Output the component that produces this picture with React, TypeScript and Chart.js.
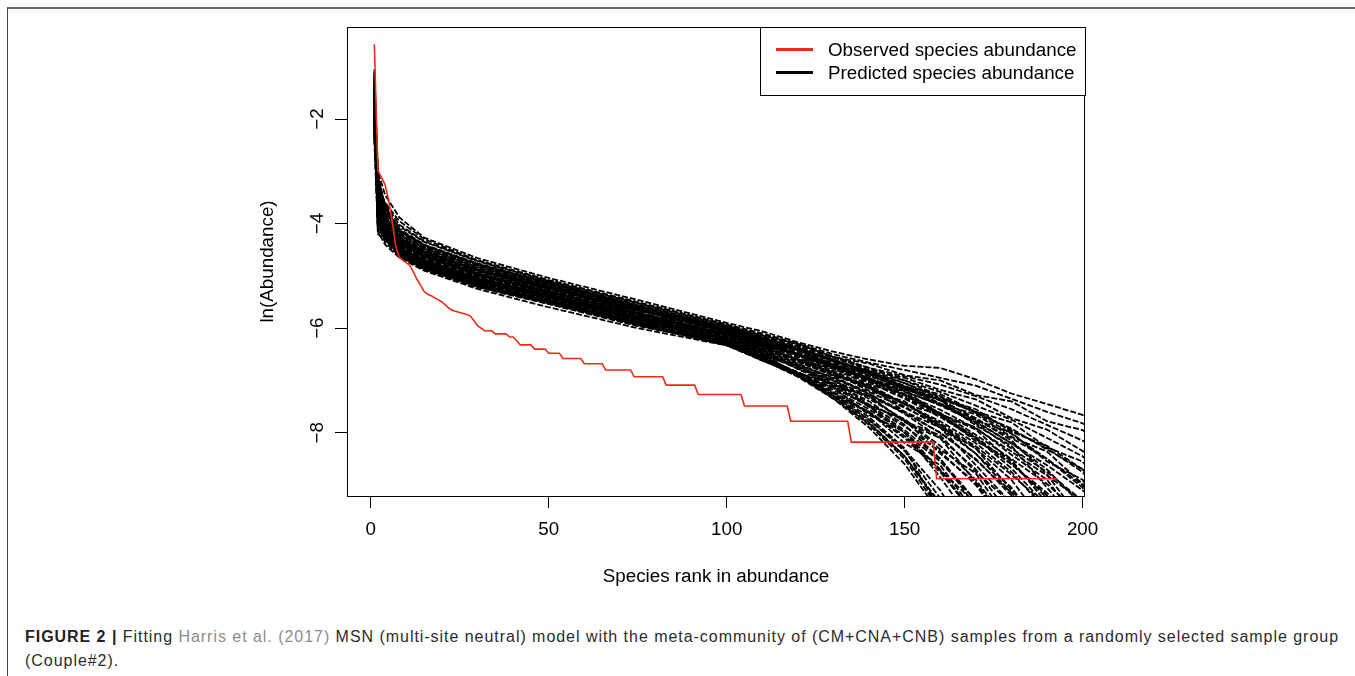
import React, { useEffect, useLayoutEffect, useRef } from "react";
import { Chart, registerables } from "chart.js";

Chart.register(...registerables);

const FONT = "'Liberation Sans', Arial, Helvetica, sans-serif";
const AXIS_FONT_SIZE = 18.8;
const RED = "#ee2a16";

const X_TICKS = [0, 50, 100, 150, 200];
const Y_TICKS = [-2, -4, -6, -8];
const Y_TICK_LABELS = ["\u22122", "\u22124", "\u22126", "\u22128"];
const X_RANGE = [-6.68, 200.68];
const Y_RANGE = [-9.21, -0.24];

const X_TITLE = "Species rank in abundance";
const Y_TITLE = "ln(Abundance)";
const LEGEND_LABELS = ["Observed species abundance", "Predicted species abundance"];

// Observed rank-abundance curve (breakpoints of the red line)
const OBS_RANKS = [
  1, 2, 3, 4, 5, 6, 7, 8, 9, 10, 11, 12, 13, 14, 15, 16, 17, 18, 19, 20, 21, 22, 23, 24, 25, 26, 27, 28, 29, 30, 31, 32,
  34, 35, 38, 39, 40, 41, 42, 45, 46, 49, 50, 53, 54, 59, 60, 65, 66, 73, 74, 82, 83, 91, 92, 104, 105, 117, 118, 134,
  135, 158, 159, 193,
];
const OBS_VALUES = [
  -0.57, -2.98, -3.12, -3.25, -3.55, -3.95, -4.42, -4.65, -4.7, -4.75, -4.8, -4.93, -5.07, -5.18, -5.3, -5.35, -5.38,
  -5.42, -5.46, -5.5, -5.56, -5.62, -5.66, -5.68, -5.7, -5.72, -5.74, -5.77, -5.86, -5.95, -6.0, -6.05,
  -6.05, -6.11, -6.11, -6.17, -6.17, -6.24, -6.32, -6.32, -6.4, -6.4, -6.48, -6.48, -6.58, -6.58, -6.68, -6.68, -6.8,
  -6.8, -6.93, -6.93, -7.09, -7.09, -7.27, -7.27, -7.49, -7.49, -7.78, -7.78, -8.18, -8.18, -8.88, -8.88,
];

// Predicted (simulated) curves, sampled at these ranks
const SIM_RANKS = [1, 2, 4, 8, 15, 30, 50, 75, 100, 110, 120, 130, 140, 150, 160, 170, 180, 190, 200, 210];
const SIM_01 = [-1.05, -3.0, -3.45, -3.88, -4.27, -4.66, -5.04, -5.46, -5.9, -6.06, -6.27, -6.45, -6.6, -6.72, -6.76, -6.98, -7.25, -7.45, -7.66, -8.0];
const SIM_02 = [-1.8, -3.3, -3.6, -3.95, -4.3, -4.7, -5.08, -5.5, -5.93, -6.1, -6.3, -6.5, -6.66, -6.8, -6.95, -7.1, -7.35, -7.6, -7.82, -8.2];
const SIM_03 = [-1.5, -3.5, -3.8, -4.05, -4.35, -4.72, -5.1, -5.52, -5.95, -6.14, -6.3, -6.55, -6.68, -6.9, -7.0, -7.28, -7.4, -7.78, -7.95, -8.45];
const SIM_04 = [-2.0, -3.2, -3.65, -4.1, -4.4, -4.76, -5.12, -5.55, -5.97, -6.15, -6.35, -6.56, -6.76, -6.92, -7.08, -7.3, -7.55, -7.85, -8.15, -8.6];
const SIM_05 = [-1.2, -3.7, -3.9, -4.15, -4.42, -4.78, -5.14, -5.57, -6.0, -6.18, -6.42, -6.56, -6.8, -6.95, -7.18, -7.36, -7.72, -7.94, -8.35, -8.75];
const SIM_06 = [-1.7, -3.4, -3.75, -4.2, -4.45, -4.8, -5.16, -5.58, -6.01, -6.2, -6.42, -6.63, -6.82, -7.0, -7.22, -7.48, -7.75, -8.1, -8.45, -9.1];
const SIM_07 = [-2.2, -3.85, -4.0, -4.22, -4.48, -4.83, -5.18, -5.6, -6.03, -6.26, -6.42, -6.7, -6.85, -7.12, -7.26, -7.6, -7.8, -8.28, -8.55, -9.45];
const SIM_08 = [-1.4, -3.1, -3.7, -4.25, -4.5, -4.85, -5.2, -5.62, -6.05, -6.25, -6.47, -6.7, -6.92, -7.12, -7.36, -7.6, -7.95, -8.3, -8.75, -9.7];
const SIM_09 = [-1.9, -3.6, -3.95, -4.3, -4.52, -4.87, -5.21, -5.63, -6.06, -6.25, -6.53, -6.7, -6.98, -7.14, -7.45, -7.65, -8.08, -8.36, -8.98, -9.9];
const SIM_10 = [-1.6, -4.0, -4.1, -4.32, -4.55, -4.88, -5.22, -5.64, -6.07, -6.3, -6.52, -6.75, -6.98, -7.22, -7.46, -7.75, -8.1, -8.5, -9.05, -10.3];
const SIM_11 = [-2.1, -3.3, -3.85, -4.28, -4.56, -4.9, -5.24, -5.66, -6.0, -6.24, -6.42, -6.7, -6.88, -7.18, -7.36, -7.76, -8.0, -8.55, -8.9, -10.0];
const SIM_12 = [-1.35, -3.75, -4.05, -4.35, -4.58, -4.92, -5.25, -5.67, -5.98, -6.18, -6.38, -6.6, -6.83, -7.05, -7.32, -7.62, -7.92, -8.32, -8.7, -9.5];
const SIM_13 = [-1.75, -3.55, -3.9, -4.38, -4.6, -4.94, -5.27, -5.69, -6.12, -6.3, -6.5, -6.72, -6.95, -7.2, -7.48, -7.8, -8.2, -8.7, -9.4];
const SIM_14 = [-1.55, -3.15, -3.8, -4.36, -4.62, -4.96, -5.28, -5.7, -6.13, -6.33, -6.6, -6.78, -7.08, -7.26, -7.65, -7.9, -8.42, -8.9, -9.8];
const SIM_15 = [-2.25, -3.95, -4.15, -4.4, -4.64, -4.98, -5.3, -5.72, -6.0, -6.2, -6.4, -6.62, -6.85, -7.1, -7.38, -7.72, -8.15, -8.8, -9.7];
const SIM_16 = [-1.45, -3.45, -3.95, -4.42, -4.66, -5.0, -5.32, -5.74, -6.16, -6.4, -6.6, -6.9, -7.08, -7.45, -7.66, -8.16, -8.52, -9.35];
const SIM_17 = [-1.95, -3.65, -4.05, -4.45, -4.68, -5.02, -5.34, -5.75, -6.18, -6.4, -6.65, -6.9, -7.15, -7.45, -7.78, -8.2, -8.75, -9.5];
const SIM_18 = [-1.25, -3.8, -4.12, -4.47, -4.7, -5.04, -5.35, -5.77, -5.96, -6.18, -6.35, -6.64, -6.82, -7.16, -7.38, -7.86, -8.25, -9.05, -9.85];
const SIM_19 = [-2.05, -3.25, -3.9, -4.5, -4.72, -5.06, -5.37, -5.79, -6.21, -6.44, -6.7, -6.95, -7.22, -7.52, -7.86, -8.3, -8.9, -9.8];
const SIM_20 = [-1.65, -4.1, -4.2, -4.48, -4.74, -5.08, -5.39, -5.8, -6.04, -6.22, -6.5, -6.66, -7.0, -7.2, -7.64, -7.94, -8.56, -9.25];
const SIM_21 = [-1.85, -3.7, -4.1, -4.52, -4.75, -5.1, -5.4, -5.82, -6.24, -6.48, -6.74, -7.0, -7.3, -7.62, -8.0, -8.5, -9.2, -10.2];
const SIM_22 = [-2.3, -3.5, -4.0, -4.55, -4.77, -5.12, -5.42, -5.84, -6.26, -6.52, -6.74, -7.1, -7.3, -7.78, -8.05, -8.75, -9.35];
const SIM_23 = [-1.5, -3.9, -4.25, -4.55, -4.78, -5.13, -5.43, -5.85, -6.1, -6.32, -6.56, -6.82, -7.12, -7.45, -7.85, -8.4, -9.15, -10.2];
const SIM_24 = [-1.1, -3.35, -4.0, -4.5, -4.8, -5.15, -5.45, -5.87, -6.29, -6.52, -6.86, -7.06, -7.48, -7.74, -8.32, -8.78, -9.75];
const SIM_25 = [-1.9, -4.2, -4.3, -4.58, -4.82, -5.17, -5.47, -5.89, -6.3, -6.56, -6.84, -7.14, -7.48, -7.88, -8.36, -9.0, -9.9];
const SIM_26 = [-2.15, -3.6, -4.15, -4.56, -4.8, -5.16, -5.48, -5.9, -6.08, -6.34, -6.5, -6.9, -7.1, -7.6, -7.9, -8.62, -9.35];
const SIM_27 = [-1.3, -3.4, -3.9, -4.34, -4.6, -4.95, -5.3, -5.72, -6.15, -6.4, -6.68, -7.0, -7.35, -7.75, -8.25, -8.9, -9.8];
const SIM_28 = [-1.7, -3.85, -4.2, -4.5, -4.73, -5.07, -5.38, -5.8, -6.2, -6.42, -6.78, -7.0, -7.46, -7.76, -8.4, -8.95, -10.0];
const SIM_29 = [-2.0, -3.75, -4.2, -4.6, -4.85, -5.2, -5.5, -5.9, -6.28, -6.55, -6.85, -7.18, -7.55, -8.0, -8.55, -9.3];
const SIM_30 = [-1.6, -3.95, -4.3, -4.6, -4.84, -5.18, -5.5, -5.92, -6.3, -6.62, -6.86, -7.3, -7.6, -8.2, -8.62, -9.55];
const SIM_31 = [-1.45, -3.6, -4.05, -4.46, -4.7, -5.05, -5.36, -5.78, -6.2, -6.48, -6.78, -7.12, -7.5, -7.95, -8.5, -9.3];
const SIM_32 = [-2.35, -3.3, -3.95, -4.4, -4.65, -5.0, -5.33, -5.76, -6.22, -6.48, -6.9, -7.14, -7.66, -7.98, -8.72, -9.35];
const SIM_33 = [-1.8, -4.0, -4.25, -4.57, -4.8, -5.14, -5.46, -5.88, -6.27, -6.56, -6.88, -7.24, -7.62, -8.1, -8.75, -9.6];
const SIM_34 = [-1.15, -3.5, -4.1, -4.53, -4.76, -5.11, -5.44, -5.86, -6.25, -6.54, -6.86, -7.22, -7.6, -8.06, -8.7, -9.6];
const SIM_35 = [-1.95, -4.15, -4.28, -4.59, -4.83, -5.19, -5.49, -5.91, -6.3, -6.6, -6.92, -7.3, -7.75, -8.32, -9.1, -10.2];
const SIM_36 = [-2.2, -3.65, -4.18, -4.57, -4.81, -5.18, -5.5, -5.93, -6.32, -6.6, -6.93, -7.35, -7.82, -8.45, -9.35];
const SIM_37 = [-1.58, -3.9, -4.27, -4.61, -4.87, -5.21, -5.53, -5.95, -6.3, -6.6, -6.9, -7.32, -7.85, -8.5, -9.5];
const SIM_38 = [-2.05, -3.7, -4.22, -4.62, -4.88, -5.22, -5.54, -5.96, -6.28, -6.58, -6.88, -7.28, -7.75, -8.35, -9.25];
const SIM_39 = [-1.7, -4.05, -4.35, -4.62, -4.86, -5.2, -5.52, -5.93, -6.33, -6.62, -6.9, -7.35, -7.9, -8.6, -9.55];
const SIM_40 = [-2.4, -4.15, -4.4, -4.65, -4.9, -5.25, -5.6, -6.0, -6.33, -6.6, -6.9, -7.3, -7.8, -8.45, -9.4];
const SIM_41 = [-1.62, -3.52, -4.0, -4.45, -4.7, -5.05, -5.38, -5.8, -6.18, -6.45, -6.75, -7.1, -7.5, -8.0, -8.85, -9.8];
const SIM_42 = [-2.12, -3.82, -4.12, -4.5, -4.72, -5.08, -5.4, -5.81, -6.2, -6.46, -6.72, -7.05, -7.4, -7.85, -8.5, -9.4];
const SIM_43 = [-1.38, -3.28, -3.85, -4.34, -4.6, -4.96, -5.3, -5.71, -6.12, -6.36, -6.62, -6.92, -7.26, -7.64, -8.1, -8.7, -9.6];
const SIM_44 = [-1.88, -3.62, -4.0, -4.4, -4.63, -4.99, -5.31, -5.73, -6.14, -6.36, -6.6, -6.86, -7.15, -7.5, -7.9, -8.4, -9.05, -9.9];
const SIM_45 = [-1.22, -3.12, -3.72, -4.2, -4.47, -4.84, -5.18, -5.6, -6.04, -6.25, -6.46, -6.7, -6.96, -7.28, -7.66, -8.1, -8.68, -9.4];
const SIM_46 = [-2.28, -3.92, -4.08, -4.38, -4.61, -4.97, -5.29, -5.71, -6.1, -6.3, -6.52, -6.78, -7.04, -7.35, -7.7, -8.12, -8.6, -9.2, -9.9];
const SIM_47 = [-1.52, -3.42, -3.78, -4.18, -4.44, -4.8, -5.15, -5.58, -6.02, -6.2, -6.42, -6.64, -6.9, -7.15, -7.45, -7.82, -8.3, -8.75, -9.3];
const SIM_48 = [-1.98, -3.18, -3.62, -4.02, -4.34, -4.71, -5.09, -5.51, -5.94, -6.12, -6.32, -6.54, -6.76, -7.0, -7.3, -7.62, -8.02, -8.5, -9.0, -9.8];
const SIM_49 = [-1.78, -3.98, -4.28, -4.6, -4.83, -5.17, -5.48, -5.9, -6.3, -6.58, -6.9, -7.25, -7.7, -8.3, -9.5];
const SIM_50 = [-1.42, -3.72, -4.1, -4.5, -4.74, -5.09, -5.41, -5.83, -6.23, -6.5, -6.72, -7.08, -7.3, -7.8, -8.1, -8.95, -9.8];
const SIM_51 = [-2.08, -3.45, -3.96, -4.43, -4.67, -5.01, -5.33, -5.75, -6.17, -6.38, -6.64, -6.84, -7.2, -7.4, -7.9, -8.3, -9.1, -9.8];
const SIM_52 = [-1.68, -3.35, -3.72, -4.12, -4.41, -4.77, -5.13, -5.56, -5.99, -6.18, -6.4, -6.6, -6.85, -7.05, -7.35, -7.55, -7.98, -8.25, -8.7, -9.3];
const SIM_53 = [-1.32, -3.62, -3.98, -4.3, -4.56, -4.9, -5.23, -5.65, -6.08, -6.28, -6.5, -6.74, -6.98, -7.26, -7.56, -7.92, -8.36, -8.82, -9.3];
const SIM_54 = [-1.92, -3.38, -3.86, -4.26, -4.53, -4.88, -5.22, -5.64, -6.05, -6.26, -6.5, -6.72, -7.0, -7.28, -7.62, -8.04, -8.5, -8.98, -9.6];
const SIM_55 = [-2.18, -3.78, -4.06, -4.4, -4.63, -4.98, -5.31, -5.73, -6.14, -6.36, -6.6, -6.86, -7.14, -7.44, -7.82, -8.26, -8.8, -9.4];
const SIM_56 = [-1.48, -3.08, -3.66, -4.14, -4.43, -4.79, -5.15, -5.57, -6.0, -6.2, -6.4, -6.62, -6.86, -7.12, -7.44, -7.78, -8.2, -8.62, -9.1, -9.7];
const SIM_57 = [-1.72, -3.88, -4.16, -4.46, -4.69, -5.04, -5.36, -5.78, -6.19, -6.42, -6.68, -6.96, -7.26, -7.6, -8.0, -8.52, -9.15, -9.9];
const SIM_58 = [-2.02, -3.58, -3.92, -4.28, -4.54, -4.89, -5.23, -5.65, -6.07, -6.28, -6.5, -6.75, -7.02, -7.32, -7.66, -8.08, -8.6, -9.15, -9.8];

const SIM_SERIES = [
  SIM_01, SIM_02, SIM_03, SIM_04, SIM_05, SIM_06, SIM_07, SIM_08, SIM_09, SIM_10,
  SIM_11, SIM_12, SIM_13, SIM_14, SIM_15, SIM_16, SIM_17, SIM_18, SIM_19, SIM_20,
  SIM_21, SIM_22, SIM_23, SIM_24, SIM_25, SIM_26, SIM_27, SIM_28, SIM_29, SIM_30,
  SIM_31, SIM_32, SIM_33, SIM_34, SIM_35, SIM_36, SIM_37, SIM_38, SIM_39, SIM_40,
  SIM_41, SIM_42, SIM_43, SIM_44, SIM_45, SIM_46, SIM_47, SIM_48, SIM_49, SIM_50,
  SIM_51, SIM_52, SIM_53, SIM_54, SIM_55, SIM_56, SIM_57, SIM_58,
];

const CAPTION_BOLD = "FIGURE 2 |";
const CAPTION_A = " Fitting ";
const CAPTION_LINK = "Harris et al. (2017)";
const CAPTION_B =
  " MSN (multi-site neutral) model with the meta-community of (CM+CNA+CNB) samples from a randomly selected sample group";
const CAPTION_LINE2 = "(Couple#2).";

const rStylePlugin = {
  id: "rStyle",
  afterDraw(chart: any) {
    const { ctx, chartArea: a, scales } = chart;
    ctx.save();
    ctx.strokeStyle = "#000";
    ctx.lineWidth = 1;
    ctx.setLineDash([]);
    ctx.strokeRect(Math.round(a.left) + 0.5, Math.round(a.top) + 0.5, Math.round(a.right - a.left) - 1, Math.round(a.bottom - a.top));
    ctx.font = `${AXIS_FONT_SIZE}px ${FONT}`;
    ctx.fillStyle = "#000";
    ctx.textAlign = "center";
    ctx.textBaseline = "middle";
    Y_TICKS.forEach((v, i) => {
      const y = scales.y.getPixelForValue(v);
      ctx.save();
      ctx.translate(a.left - 30, y);
      ctx.rotate(-Math.PI / 2);
      ctx.fillText(Y_TICK_LABELS[i], 0, 1);
      ctx.restore();
    });
    const lw = 325;
    const lh = 68;
    const lx = a.right - lw;
    const ly = a.top;
    ctx.fillStyle = "#fff";
    ctx.fillRect(lx, ly, lw, lh);
    ctx.strokeStyle = "#000";
    ctx.lineWidth = 1;
    ctx.strokeRect(Math.round(lx) + 0.5, Math.round(ly) + 0.5, lw, lh);
    const colors = [RED, "#000"];
    LEGEND_LABELS.forEach((t, i) => {
      const yy = ly + 22.5 + i * 23;
      ctx.strokeStyle = colors[i];
      ctx.lineWidth = 3;
      ctx.beginPath();
      ctx.moveTo(lx + 16, yy);
      ctx.lineTo(lx + 53, yy);
      ctx.stroke();
      ctx.fillStyle = "#000";
      ctx.textAlign = "left";
      ctx.textBaseline = "middle";
      ctx.fillText(t, lx + 68, yy + 1);
    });
    ctx.restore();
  },
};

export default function App() {
  const canvasRef = useRef<HTMLCanvasElement>(null);
  const capRef = useRef<HTMLDivElement>(null);
  const cap2Ref = useRef<HTMLDivElement>(null);

  useLayoutEffect(() => {
    const el = capRef.current;
    if (!el) return;
    const w = el.getBoundingClientRect().width;
    const n = (el.textContent || "").length;
    const ls = (1314 - w) / n;
    el.style.letterSpacing = ls + "px";
    if (cap2Ref.current) cap2Ref.current.style.letterSpacing = ls + "px";
  }, []);

  useEffect(() => {
    const canvas = canvasRef.current;
    if (!canvas) return;
    const datasets: any[] = [];
    datasets.push({
      label: LEGEND_LABELS[0],
      data: OBS_RANKS.map((r, i) => ({ x: r, y: OBS_VALUES[i] })),
      borderColor: RED,
      backgroundColor: RED,
      borderWidth: 1.6,
      pointRadius: 0,
      tension: 0,
      fill: false,
    });
    SIM_SERIES.forEach((vals, k) => {
      datasets.push({
        label: LEGEND_LABELS[1] + " " + (k + 1),
        data: vals.map((v, i) => ({ x: SIM_RANKS[i], y: v })),
        borderColor: "#000",
        backgroundColor: "#000",
        borderWidth: 1.8,
        borderDash: [6, 2],
        pointRadius: 0,
        tension: 0,
        fill: false,
      });
    });

    const chart = new Chart(canvas, {
      type: "line",
      data: { datasets },
      options: {
        animation: false,
        responsive: false,
        devicePixelRatio: 1,
        events: [],
        layout: { padding: { top: 27, right: 270, left: 0, bottom: 0 } },
        plugins: { legend: { display: false }, tooltip: { enabled: false }, title: { display: false } },
        scales: {
          x: {
            type: "linear",
            min: X_RANGE[0],
            max: X_RANGE[1],
            afterBuildTicks: (s: any) => {
              s.ticks = X_TICKS.map((v) => ({ value: v }));
            },
            afterFit: (s: any) => {
              s.height = 104;
            },
            grid: { display: true, drawOnChartArea: false, drawTicks: true, tickLength: 12, color: "#000", lineWidth: 1 },
            border: { display: false },
            ticks: {
              autoSkip: false,
              maxRotation: 0,
              minRotation: 0,
              padding: 11,
              color: "#000",
              font: { family: FONT, size: AXIS_FONT_SIZE },
              callback: (v: any) => String(v),
            },
            title: {
              display: true,
              text: X_TITLE,
              color: "#000",
              font: { family: FONT, size: AXIS_FONT_SIZE },
              padding: { top: 0, bottom: 11.6 },
            },
          },
          y: {
            type: "linear",
            min: Y_RANGE[0],
            max: Y_RANGE[1],
            afterBuildTicks: (s: any) => {
              s.ticks = Y_TICKS.map((v) => ({ value: v }));
            },
            afterFit: (s: any) => {
              s.width = 347;
            },
            grid: { display: true, drawOnChartArea: false, drawTicks: true, tickLength: 12, color: "#000", lineWidth: 1 },
            border: { display: false },
            ticks: { display: false },
            title: {
              display: true,
              text: Y_TITLE,
              color: "#000",
              font: { family: FONT, size: AXIS_FONT_SIZE },
              padding: { top: 256.7, bottom: 0 },
            },
          },
        },
      },
      plugins: [rStylePlugin],
    } as any);
    return () => chart.destroy();
  }, []);

  const capStyle: React.CSSProperties = {
    position: "absolute",
    left: 25,
    whiteSpace: "nowrap",
    fontFamily: FONT,
    fontSize: 16,
    lineHeight: "24px",
    color: "#2b2b2b",
  };

  return (
    <div style={{ position: "absolute", left: 0, top: 0, width: 1355, height: 676, background: "#fff", overflow: "hidden" }}>
      <div
        style={{
          position: "absolute",
          left: 7,
          top: 7,
          width: 1360,
          height: 700,
          borderTop: "2px solid #666",
          borderLeft: "1px solid #444",
        }}
      />
      <canvas
        ref={canvasRef}
        width={1355}
        height={600}
        style={{ position: "absolute", left: 0, top: 0, width: 1355, height: 600 }}
      />
      <div ref={capRef} style={{ ...capStyle, top: 625 }}>
        <span style={{ fontWeight: "bold", color: "#222" }}>{CAPTION_BOLD}</span>
        {CAPTION_A}
        <span style={{ color: "#8c8c8c" }}>{CAPTION_LINK}</span>
        {CAPTION_B}
      </div>
      <div ref={cap2Ref} style={{ ...capStyle, top: 649 }}>
        {CAPTION_LINE2}
      </div>
    </div>
  );
}
